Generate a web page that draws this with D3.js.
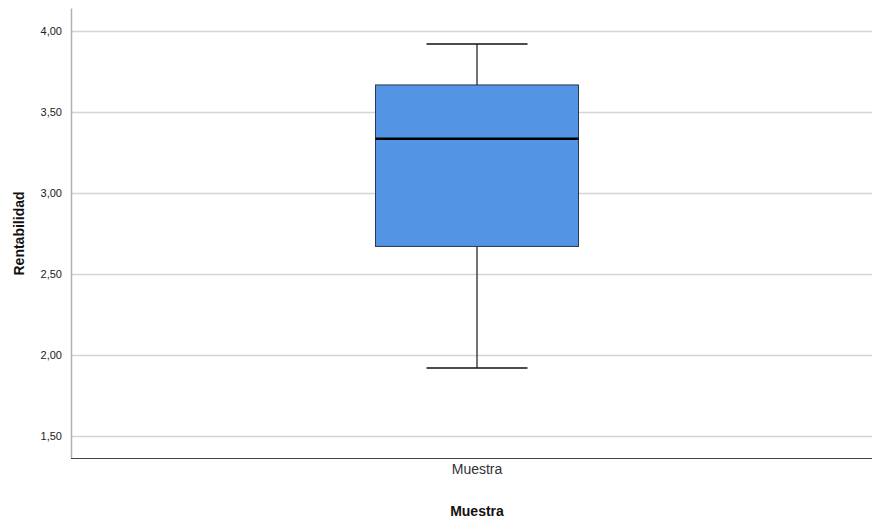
<!DOCTYPE html>
<html>
<head>
<meta charset="utf-8">
<script src="https://cdn.jsdelivr.net/npm/d3@7"></script>
<style>
  body { margin: 0; background: #fff; }
  text { font-family: Arial, "Liberation Sans", sans-serif; }
</style>
</head>
<body>
<div id="chart-area"></div>
<script>
// Data
var categories = ["Muestra"];
var whiskerLow = [1.92];
var q1 = [2.67];
var median = [3.335];
var q3 = [3.667];
var whiskerHigh = [3.92];
var yTicks = [1.5, 2.0, 2.5, 3.0, 3.5, 4.0];

var width = 872, height = 525;
var margin = {top: 8, left: 71, right: 0, bottom: 67};

var svg = d3.select("#chart-area").append("svg")
	.attr("width", width)
	.attr("height", height);

var yScale = d3.scaleLinear()
	.domain([1.364, 4.142])
	.range([height - margin.bottom, margin.top]);

var xScale = d3.scaleBand()
	.domain(categories)
	.range([margin.left, 883]);

// gridlines
svg.append("g")
	.selectAll("line")
	.data(yTicks)
	.enter()
	.append("line")
	.attr("x1", margin.left)
	.attr("x2", width)
	.attr("y1", function(d){ return Math.round(yScale(d)) + 0.5; })
	.attr("y2", function(d){ return Math.round(yScale(d)) + 0.5; })
	.attr("stroke", "#d4d4d4")
	.attr("stroke-width", 1.5);

// y axis
var yAxis = d3.axisLeft(yScale)
	.tickValues(yTicks)
	.tickSize(0)
	.tickPadding(9)
	.tickFormat(function(d){ return d3.format(".2f")(d).replace(".", ","); });
var gy = svg.append("g")
	.attr("transform", "translate(" + margin.left + ",0)")
	.call(yAxis);
gy.select(".domain").attr("stroke", "#b0b0b0").attr("stroke-width", 1.5);
gy.selectAll("text").attr("font-size", 11).attr("fill", "#222");

// x axis
var xAxis = d3.axisBottom(xScale).tickSize(0).tickPadding(6);
var gx = svg.append("g")
	.attr("transform", "translate(0," + (height - margin.bottom) + ")")
	.call(xAxis);
gx.select(".domain").attr("stroke", "#444").attr("d", "M" + margin.left + ",0.5H" + width);
gx.selectAll("text").attr("font-size", 14).attr("fill", "#333");

var boxW = 203, capW = 101;

var box = svg.append("g")
	.selectAll("g")
	.data(categories)
	.enter()
	.append("g");

// whisker stems
box.append("line")
	.attr("x1", function(d){ return xScale(d) + xScale.bandwidth() / 2; })
	.attr("x2", function(d){ return xScale(d) + xScale.bandwidth() / 2; })
	.attr("y1", function(d, i){ return yScale(whiskerLow[i]); })
	.attr("y2", function(d, i){ return yScale(whiskerHigh[i]); })
	.attr("stroke", "#444")
	.attr("stroke-width", 1.5);

// caps
[whiskerLow, whiskerHigh].forEach(function(arr){
	box.append("line")
		.attr("x1", function(d){ return xScale(d) + xScale.bandwidth() / 2 - capW / 2; })
		.attr("x2", function(d){ return xScale(d) + xScale.bandwidth() / 2 + capW / 2; })
		.attr("y1", function(d, i){ return yScale(arr[i]); })
		.attr("y2", function(d, i){ return yScale(arr[i]); })
		.attr("stroke", "#111")
		.attr("stroke-width", 1.5);
});

// box
box.append("rect")
	.attr("x", function(d){ return xScale(d) + xScale.bandwidth() / 2 - boxW / 2; })
	.attr("width", boxW)
	.attr("y", function(d, i){ return yScale(q3[i]); })
	.attr("height", function(d, i){ return yScale(q1[i]) - yScale(q3[i]); })
	.attr("fill", "#5394e4")
	.attr("stroke", "#2a3a50")
	.attr("stroke-width", 1);

// median
box.append("line")
	.attr("x1", function(d){ return xScale(d) + xScale.bandwidth() / 2 - boxW / 2; })
	.attr("x2", function(d){ return xScale(d) + xScale.bandwidth() / 2 + boxW / 2; })
	.attr("y1", function(d, i){ return yScale(median[i]); })
	.attr("y2", function(d, i){ return yScale(median[i]); })
	.attr("stroke", "#000")
	.attr("stroke-width", 2.5);

// axis titles
svg.append("text")
	.attr("x", xScale(categories[0]) + xScale.bandwidth() / 2)
	.attr("y", 516)
	.attr("text-anchor", "middle")
	.attr("font-size", 14)
	.attr("font-weight", "bold")
	.attr("fill", "#111")
	.text("Muestra");

svg.append("text")
	.attr("transform", "translate(24," + yScale(2.75) + ") rotate(-90)")
	.attr("text-anchor", "middle")
	.attr("font-size", 14)
	.attr("font-weight", "bold")
	.attr("fill", "#111")
	.text("Rentabilidad");
</script>
</body>
</html>
